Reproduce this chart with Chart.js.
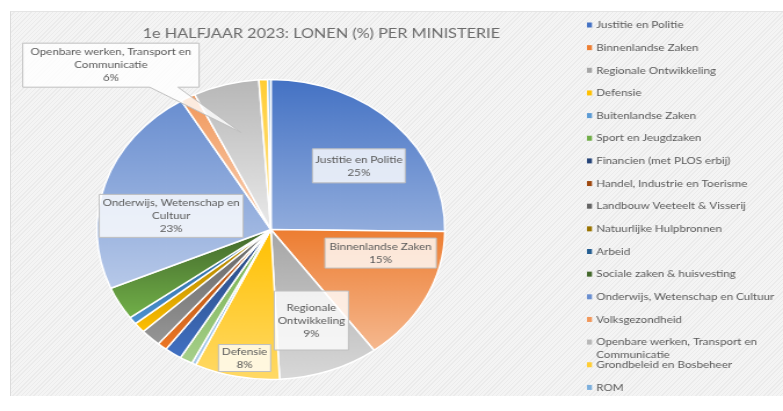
<!DOCTYPE html>
<html lang="nl">
<head>
<meta charset="UTF-8">
<title>1e halfjaar 2023 - lonen per ministerie</title>
<script src="https://cdn.jsdelivr.net/npm/chart.js"></script>
<style>
    body { margin: 0; background: #fff; overflow: hidden; }
    .paneel {
        position: absolute; left: 10px; top: 11px; width: 773px; height: 384px;
        background: repeating-linear-gradient(135deg, #f4f4f4 0px, #f4f4f4 2px, #ebebeb 2px, #ebebeb 3px);
        border-left: 1px solid #dcdcdc; border-top: 1px solid #e4e4e4;
    }
    /* the screenshot is stretched horizontally, so the canvas is too */
    .rek {
        position: absolute; left: 0; top: 0; width: 675px; height: 411px;
        transform: scaleX(1.16); transform-origin: 0 0;
    }
</style>
</head>
<body>
    <div class="paneel"></div>
    <div class="rek"><canvas id="lonenChart"></canvas></div>

<script>
    const titel = '1e HALFJAAR 2023: LONEN (%) PER MINISTERIE';

    const ministeries = [
        'Justitie en Politie', 'Binnenlandse Zaken', 'Regionale Ontwikkeling', 'Defensie',
        'Buitenlandse Zaken', 'Sport en Jeugdzaken', 'Financien (met PLOS erbij)',
        'Handel, Industrie en Toerisme', 'Landbouw Veeteelt & Visserij', 'Natuurlijke Hulpbronnen',
        'Arbeid', 'Sociale zaken & huisvesting', 'Onderwijs, Wetenschap en Cultuur',
        'Volksgezondheid', 'Openbare werken, Transport en Communicatie',
        'Grondbeleid en Bosbeheer', 'ROM'
    ];

    // aandeel in de lonen (%)
    const lonenPct = [25.2, 14.7, 9.3, 7.9, 0.4, 1.2, 1.6, 0.9, 1.9, 1.1, 0.8, 3.6, 22.8, 1.4, 6.1, 0.8, 0.3];

    const kleuren = [
        '#4472C4', '#ED7D31', '#A5A5A5', '#FFC000', '#5B9BD5', '#70AD47',
        '#264478', '#9E480E', '#636363', '#997300', '#255E91', '#43682B',
        '#698ED0', '#F1975A', '#B7B7B7', '#FFCD33', '#7CAFDD'
    ];

    // labels op de taart: hoek vanaf boven (graden), afstand (deel van de straal), box breedte x hoogte
    const labelPlaats = [
        { i: 0,  hoek: 50,  afstand: 0.66, b: 80,  h: 34 },
        { i: 1,  hoek: 104, afstand: 0.65, b: 96,  h: 30 },
        { i: 2,  hoek: 159, afstand: 0.65, b: 64,  h: 59 },
        { i: 3,  hoek: 190, afstand: 0.87, b: 45,  h: 27 },
        { i: 12, hoek: 279, afstand: 0.58, b: 124, h: 43 },
        { i: 14, hoek: 320, afstand: 1.43, b: 152, h: 44, pijl: 0.67 }
    ];

    const straal = 150;
    const tekstKleur = '#595959';
    const letter = '10px Lato';

    function lichter(hex, extra) {
        const r = parseInt(hex.slice(1, 3), 16) / 255;
        const g = parseInt(hex.slice(3, 5), 16) / 255;
        const b = parseInt(hex.slice(5, 7), 16) / 255;
        const max = Math.max(r, g, b), min = Math.min(r, g, b);
        let h = 0, s = 0, l = (max + min) / 2;
        if (max !== min) {
            const d = max - min;
            s = l > 0.5 ? d / (2 - max - min) : d / (max + min);
            if (max === r) h = (g - b) / d + (g < b ? 6 : 0);
            else if (max === g) h = (b - r) / d + 2;
            else h = (r - g) / d + 4;
            h /= 6;
        }
        l = Math.min(0.95, l + extra);
        return 'hsl(' + (h * 360) + ',' + (s * 100) + '%,' + (l * 100) + '%)';
    }

    function sliceHoeken(i) {
        const totaal = lonenPct.reduce((a, b) => a + b, 0);
        const voor = lonenPct.slice(0, i).reduce((a, b) => a + b, 0);
        return [voor / totaal * 2 * Math.PI, (voor + lonenPct[i]) / totaal * 2 * Math.PI];
    }

    // verloop van boven (basiskleur) naar onder (lichter), per stuk
    function sliceVerloop(ctx) {
        const i = ctx.dataIndex;
        if (i === undefined) return kleuren[0];
        const area = ctx.chart.chartArea;
        if (!area) return kleuren[i];
        const cy = (area.top + area.bottom) / 2;
        const [a0, a1] = sliceHoeken(i);
        let y0 = cy, y1 = cy;
        for (let k = 0; k <= 24; k++) {
            const y = cy - straal * Math.cos(a0 + (a1 - a0) * k / 24);
            y0 = Math.min(y0, y); y1 = Math.max(y1, y);
        }
        const g = ctx.chart.ctx.createLinearGradient(0, y0, 0, y1 + 0.01);
        g.addColorStop(0, kleuren[i]);
        g.addColorStop(1, lichter(kleuren[i], 0.2));
        return g;
    }

    function afbreken(c, tekst, maxB) {
        const woorden = tekst.split(' ');
        const regels = [];
        let regel = '';
        woorden.forEach(w => {
            const test = regel ? regel + ' ' + w : w;
            if (regel && c.measureText(test).width > maxB) { regels.push(regel); regel = w; }
            else regel = test;
        });
        regels.push(regel);
        return regels;
    }

    const titelPlugin = {
        id: 'titel',
        afterDraw(chart) {
            const c = chart.ctx;
            c.save();
            c.font = '14px Lato';
            c.fillStyle = '#6b6b6b';
            c.textAlign = 'center';
            c.textBaseline = 'middle';
            c.fillText(titel, 277, 33);
            c.restore();
        }
    };

    const labelsPlugin = {
        id: 'labels',
        afterDatasetsDraw(chart) {
            const c = chart.ctx;
            const meta = chart.getDatasetMeta(0);
            c.save();
            c.font = letter;
            labelPlaats.forEach(p => {
                const arc = meta.data[p.i];
                const r = arc.outerRadius;
                const hoek = p.hoek * Math.PI / 180;
                const bx = arc.x + Math.sin(hoek) * r * p.afstand;
                const by = arc.y - Math.cos(hoek) * r * p.afstand;
                const x0 = bx - p.b / 2, y0 = by - p.h / 2;
                c.beginPath();
                if (p.pijl) {
                    const mid = (arc.startAngle + arc.endAngle) / 2;
                    const tx = arc.x + Math.cos(mid) * r * p.pijl;
                    const ty = arc.y + Math.sin(mid) * r * p.pijl;
                    c.moveTo(x0, y0);
                    c.lineTo(x0 + p.b, y0);
                    c.lineTo(x0 + p.b, y0 + p.h);
                    c.lineTo(bx + p.b * 0.38, y0 + p.h);
                    c.lineTo(tx, ty);
                    c.lineTo(bx + p.b * 0.22, y0 + p.h);
                    c.lineTo(x0, y0 + p.h);
                    c.closePath();
                } else {
                    c.rect(x0, y0, p.b, p.h);
                }
                c.fillStyle = 'rgba(255,255,255,0.8)';
                c.fill();
                c.strokeStyle = '#BFBFBF';
                c.lineWidth = 1;
                c.stroke();

                const regels = afbreken(c, ministeries[p.i], p.b - 2);
                regels.push(Math.round(lonenPct[p.i]) + '%');
                c.fillStyle = tekstKleur;
                c.textAlign = 'center';
                c.textBaseline = 'middle';
                regels.forEach((t, k) => c.fillText(t, bx, by + (k - (regels.length - 1) / 2) * 13));
            });
            c.restore();
        }
    };

    const legendaPlugin = {
        id: 'legenda',
        afterDraw(chart) {
            const c = chart.ctx;
            c.save();
            c.font = letter;
            c.textAlign = 'left';
            c.textBaseline = 'middle';
            ministeries.forEach((naam, i) => {
                const y = 25 + i * 22.65;
                c.fillStyle = kleuren[i];
                c.fillRect(506, y - 2.5, 4.3, 5);
                c.fillStyle = tekstKleur;
                afbreken(c, naam, 155).forEach((t, k) => c.fillText(t, 514, y + k * 13));
            });
            c.restore();
        }
    };

    new Chart(document.getElementById('lonenChart'), {
        type: 'pie',
        data: {
            labels: ministeries,
            datasets: [{
                data: lonenPct,
                backgroundColor: sliceVerloop,
                borderColor: '#fff',
                borderWidth: 1.5,
                radius: straal
            }]
        },
        options: {
            responsive: true,
            maintainAspectRatio: false,
            animation: false,
            layout: { padding: { left: 60, right: 268, top: 70, bottom: 22 } },
            plugins: {
                legend: { display: false },
                tooltip: { enabled: false }
            }
        },
        plugins: [labelsPlugin, titelPlugin, legendaPlugin]
    });
</script>
</body>
</html>
